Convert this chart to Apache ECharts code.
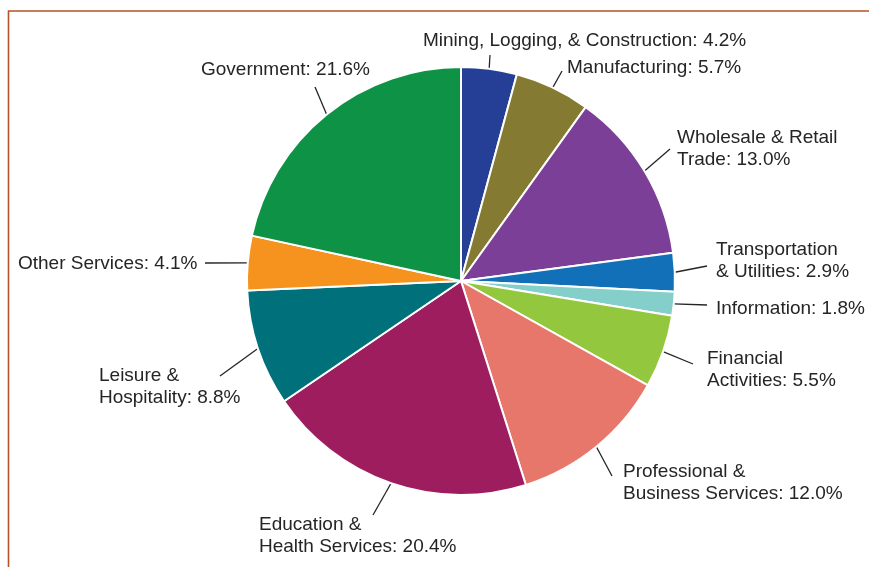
<!DOCTYPE html>
<html>
<head>
<meta charset="utf-8">
<script src="https://cdn.jsdelivr.net/npm/echarts@6/dist/echarts.min.js"></script>
<style>
html,body{margin:0;padding:0;background:#fff;}
#chart{width:869px;height:567px;}
</style>
</head>
<body>
<div id="chart"></div>
<script>
// Data
const categories = [
  "Mining, Logging, & Construction",
  "Manufacturing",
  "Wholesale & Retail\nTrade",
  "Transportation\n& Utilities",
  "Information",
  "Financial\nActivities",
  "Professional &\nBusiness Services",
  "Education &\nHealth Services",
  "Leisure &\nHospitality",
  "Other Services",
  "Government"
];
const shares = [4.2, 5.7, 13.0, 2.9, 1.8, 5.5, 12.0, 20.4, 8.8, 4.1, 21.6];
const colors = ["#243f95", "#857a31", "#7b3f98", "#1270b8", "#84cfca", "#93c83e", "#e8776b", "#9e1d5f", "#00707a", "#f6921e", "#0e9346"];

// Label placement (layout only): [textLeftX, textCenterY, lineOuterX, lineOuterY]
const labelPlacement = [
  [423, 41, 490, 55],
  [567, 68, 562, 71],
  [677, 149, 670, 149],
  [716, 261, 707, 266],
  [716, 309, 707, 305],
  [707, 370, 693, 364],
  [623, 483, 612, 476],
  [259, 536, 373, 515],
  [99, 387, 220, 376],
  [18, 264, 205, 263],
  [201, 70, 315, 87]
];

const chart = echarts.init(document.getElementById('chart'), null, {renderer: 'canvas'});
const pieData = categories.map((c, i) => ({
  name: c,
  value: shares[i],
  itemStyle: {color: colors[i]}
}));

chart.setOption({
  animation: false,
  backgroundColor: '#ffffff',
  graphic: [{
    type: 'rect',
    silent: true,
    shape: {x: 8.5, y: 11, width: 900, height: 600},
    style: {fill: 'none', stroke: '#b4532a', lineWidth: 1.6}
  }],
  series: [{
    type: 'pie',
    center: [461, 281],
    radius: 214,
    startAngle: 90,
    clockwise: true,
    avoidLabelOverlap: false,
    data: pieData,
    itemStyle: {borderColor: '#ffffff', borderWidth: 2},
    label: {
      show: true,
      position: 'outside',
      color: '#252525',
      fontFamily: 'Liberation Sans, Arial, Helvetica, sans-serif',
      fontSize: 19,
      lineHeight: 22,
      formatter: p => p.name + ': ' + p.value.toFixed(1) + '%'
    },
    labelLine: {
      show: true,
      length: 10,
      length2: 0,
      lineStyle: {color: '#252525', width: 1.3}
    },
    labelLayout: function (params) {
      const lp = labelPlacement[params.dataIndex];
      const edge = params.labelLinePoints ? params.labelLinePoints[0] : [lp[2], lp[3]];
      return {
        x: lp[0],
        y: lp[1],
        align: 'left',
        verticalAlign: 'middle',
        labelLinePoints: [edge, [lp[2], lp[3]], [lp[2], lp[3]]]
      };
    }
  }]
});
</script>
</body>
</html>
